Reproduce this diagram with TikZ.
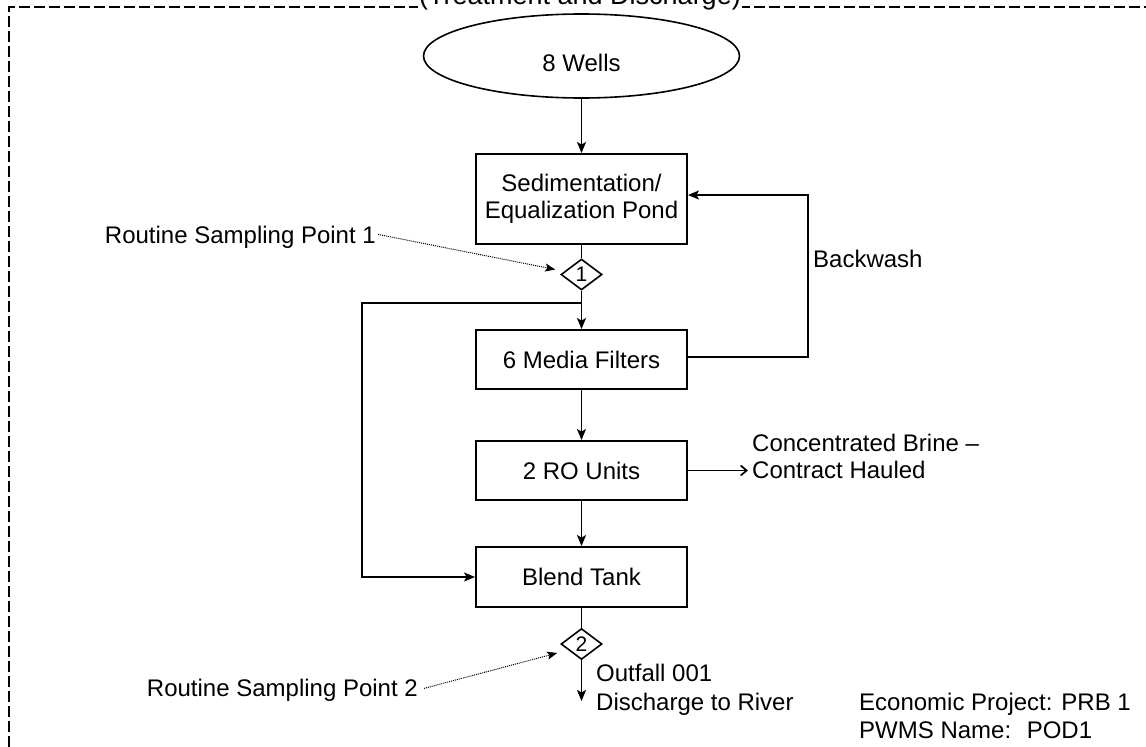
\documentclass[tikz,border=0pt]{standalone}
\usepackage{fontspec}
\setmainfont{Liberation Sans}
\usetikzlibrary{shapes.geometric,arrows.meta}
\begin{document}
\begin{tikzpicture}[x=1pt,y=-1pt,
  box/.style={draw,line width=1.9pt,minimum width=211pt,inner sep=0pt,align=center,font=\fontsize{24}{27}\selectfont},
  lbl/.style={inner sep=0pt,align=left,font=\fontsize{24}{28}\selectfont},
  flow/.style={line width=1.7pt,-{Stealth[length=11pt,width=9pt,inset=2.5pt]}},
  plain/.style={line width=1.7pt},
  pointer/.style={line width=1pt,densely dotted,-{Stealth[length=10pt,width=8pt,inset=2pt]}},
  sp/.style={draw,diamond,aspect=1.32,minimum width=41pt,minimum height=31pt,inner sep=0pt,line width=1.6pt,font=\fontsize{21}{21}\selectfont}]
\useasboundingbox (0,0) rectangle (1146,747);
% dashed frame
\draw[line width=1.6pt,dash pattern=on 11pt off 4pt] (9,747) -- (9,7) -- (1146,7);
\node[fill=white,inner sep=1pt,anchor=base,font=\fontsize{27}{27}\selectfont] (title) at (580,4) {(Treatment and Discharge)};
% nodes
\node[draw,ellipse,minimum width=316pt,minimum height=84pt,inner sep=0pt,line width=1.6pt,
      text height=31pt,text depth=0pt,font=\fontsize{24}{27}\selectfont] (wells) at (581.5,56) {8 Wells};
\node[box,minimum height=90pt] (sed) at (581.5,199) {Sedimentation/\\Equalization Pond};
\node[sp] (d1) at (581.5,274.5) {1};
\coordinate (j1) at (581.5,303);
\coordinate (byp) at (362,303);
\node[box,minimum height=59pt] (media) at (581.5,359.5) {6 Media Filters};
\node[box,minimum height=59pt] (ro) at (581.5,470.5) {2 RO Units};
\node[box,minimum height=60pt] (blend) at (581.5,577) {Blend Tank};
\node[sp] (d2) at (581.5,644) {2};
\coordinate (out) at (581.5,701);
\coordinate (bw) at (808,300);
\coordinate (brinetip) at (748,470.5);
% labels
\node[lbl,anchor=west] (backwash) at (813,259) {Backwash};
\node[lbl,anchor=north west,font=\fontsize{24}{27}\selectfont] (brine) at (752,434) {Concentrated Brine --\\Contract Hauled};
\node[lbl,anchor=base east] (rsp1) at (376,243.6) {Routine Sampling Point 1};
\node[lbl,anchor=base east] (rsp2) at (418,696.6) {Routine Sampling Point 2};
\node[lbl,anchor=north west,font=\fontsize{24}{29}\selectfont] (outfall) at (596,664) {Outfall 001\\Discharge to River};
\node[lbl,anchor=north west] (econ) at (859,693) {Economic Project: PRB 1\\PWMS Name: \ POD1};
% connectors
\draw[flow] (wells.south) -- (sed.north);
\draw[plain] (sed.south) -- (d1.north);
\draw[flow] (d1.south) -- (media.north);
\draw[flow] (j1) -- (byp) |- (blend.west);
\draw[flow] ([yshift=2.5pt]media.east) -| (bw) |- ([yshift=4pt]sed.east);
\draw[flow] (media.south) -- (ro.north);
\draw[line width=1.7pt,-{Straight Barb[length=6pt,width=10pt]}] (ro.east) -- (brinetip);
\draw[flow] (ro.south) -- (blend.north);
\draw[plain] (blend.south) -- (d2.north);
\draw[flow] (d2.south) -- (out);
\draw[pointer] ([xshift=2pt,yshift=3pt]rsp1.east) -- ([xshift=-5pt,yshift=5pt]d1.west);
\draw[pointer] ([xshift=6pt,yshift=2pt]rsp2.east) -- ([xshift=-3pt,yshift=-9pt]d2.west);
\end{tikzpicture}
\end{document}
